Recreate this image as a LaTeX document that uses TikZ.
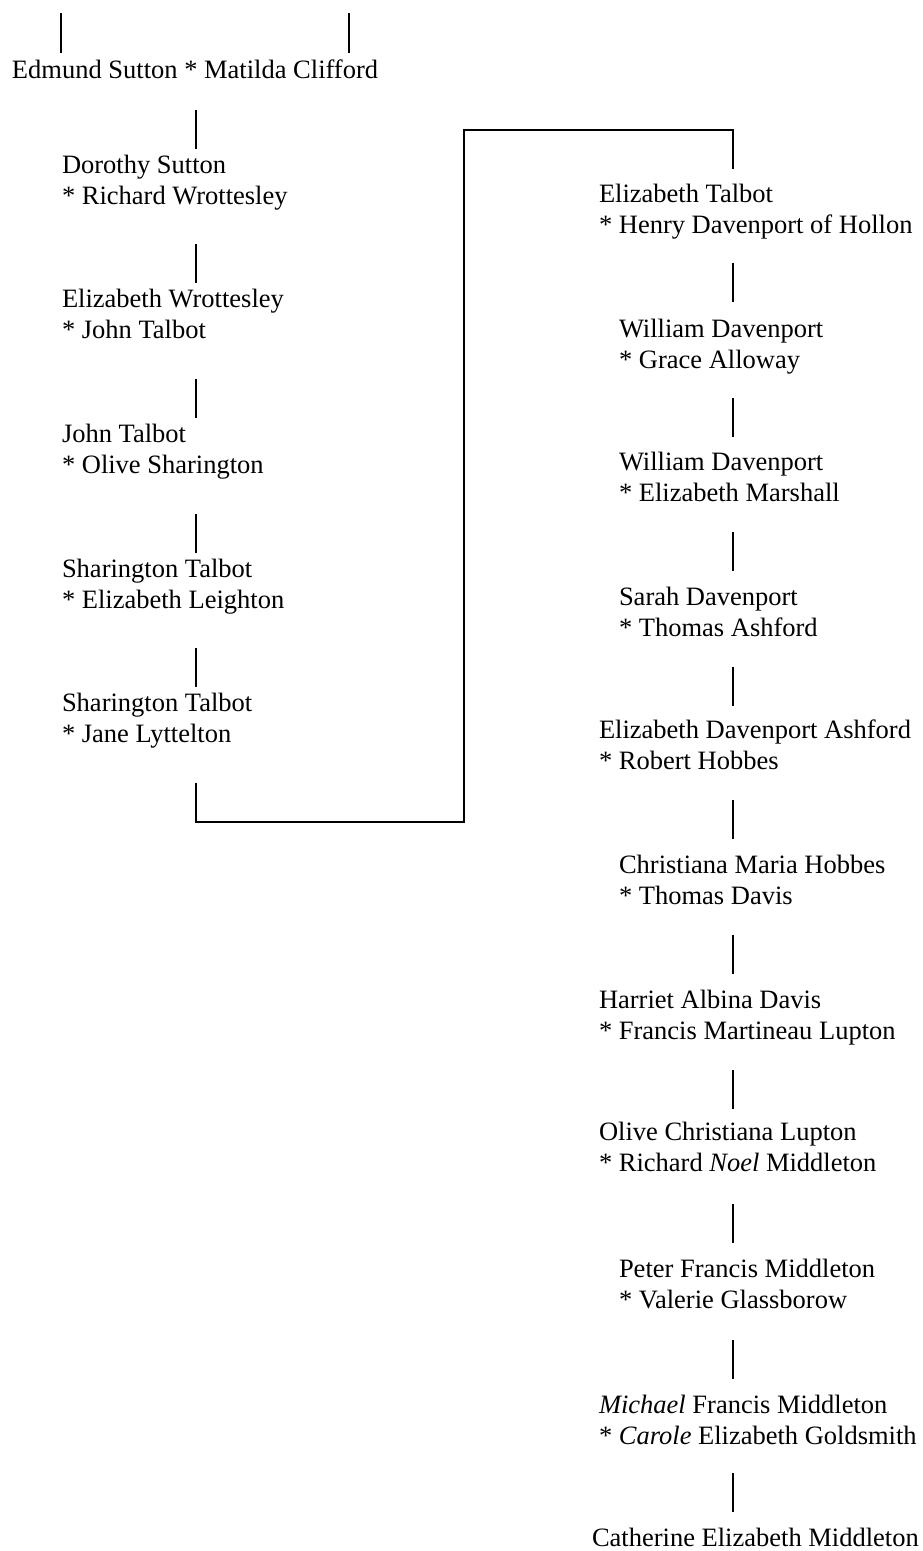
\documentclass[tikz,border=0pt]{standalone}
\usepackage{fontspec}
\setmainfont{Liberation Serif}
\begin{document}
\begin{tikzpicture}[x=1pt,y=-1pt,
  person/.style={anchor=base west,inner sep=0pt,outer sep=0pt,
    font=\fontsize{26.5}{31}\selectfont},
  link/.style={draw=black,line width=1.5pt}]
\useasboundingbox (0,0) rectangle (923,1551);
\newcommand{\pair}[2]{\begin{tabular}[t]{@{}l@{}}#1\\\relax #2\end{tabular}}
% top
\node[person] (edmund) at (12,78) {Edmund Sutton * Matilda Clifford};
\coordinate (tl1) at (61,13); \coordinate (tl2) at (61,53);
\coordinate (tr1) at (349,13); \coordinate (tr2) at (349,53);
\draw[link] (tl1) -- (tl2);
\draw[link] (tr1) -- (tr2);
% left column
\node[person] (dorothy) at (62,173) {\pair{Dorothy Sutton}{* Richard Wrottesley}};
\node[person] (elizw) at (62,307) {\pair{Elizabeth Wrottesley}{* John Talbot}};
\node[person] (john) at (62,442) {\pair{John Talbot}{* Olive Sharington}};
\node[person] (shar1) at (62,577) {\pair{Sharington Talbot}{* Elizabeth Leighton}};
\node[person] (shar2) at (62,711) {\pair{Sharington Talbot}{* Jane Lyttelton}};
\foreach \n/\a in {l1/110,l2/244,l3/379,l4/514,l5/648}{
  \coordinate (\n a) at (196,\a);
  \coordinate (\n b) at (196,\a+39);
  \draw[link] (\n a) -- (\n b);
}
% jump
\coordinate (j1) at (196,783);
\coordinate (j2) at (196,822);
\coordinate (j3) at (464,822);
\coordinate (j4) at (464,130);
\coordinate (j5) at (733,130);
\coordinate (j6) at (733,169);
\draw[link,line join=miter] (j1) -- (j2) -- (j3) -- (j4) -- (j5) -- (j6);
% right column
\node[person] (elizt) at (599,202) {\pair{Elizabeth Talbot}{* Henry Davenport of Hollon}};
\node[person] (will1) at (619,337) {\pair{William Davenport}{* Grace Alloway}};
\node[person] (will2) at (619,470) {\pair{William Davenport}{* Elizabeth Marshall}};
\node[person] (sarah) at (619,605) {\pair{Sarah Davenport}{* Thomas Ashford}};
\node[person] (elizda) at (599,738) {\pair{Elizabeth Davenport Ashford}{* Robert Hobbes}};
\node[person] (christ) at (619,873) {\pair{Christiana Maria Hobbes}{* Thomas Davis}};
\node[person] (harriet) at (599,1008) {\pair{Harriet Albina Davis}{* Francis Martineau Lupton}};
\node[person] (olive) at (599,1140) {\pair{Olive Christiana Lupton}{* Richard \textit{Noel} Middleton}};
\node[person] (peter) at (619,1277) {\pair{Peter Francis Middleton}{* Valerie Glassborow}};
\node[person] (michael) at (599,1413) {\pair{\textit{Michael} Francis Middleton}{* \textit{Carole} Elizabeth Goldsmith}};
\node[person] (cath) at (592,1546) {Catherine Elizabeth Middleton};
\foreach \n/\a in {r1/263,r2/398,r3/532,r4/667,r5/800,r6/935,r7/1070,r8/1204,r9/1340,r10/1473}{
  \coordinate (\n a) at (733,\a);
  \coordinate (\n b) at (733,\a+39);
  \draw[link] (\n a) -- (\n b);
}
\end{tikzpicture}
\end{document}
